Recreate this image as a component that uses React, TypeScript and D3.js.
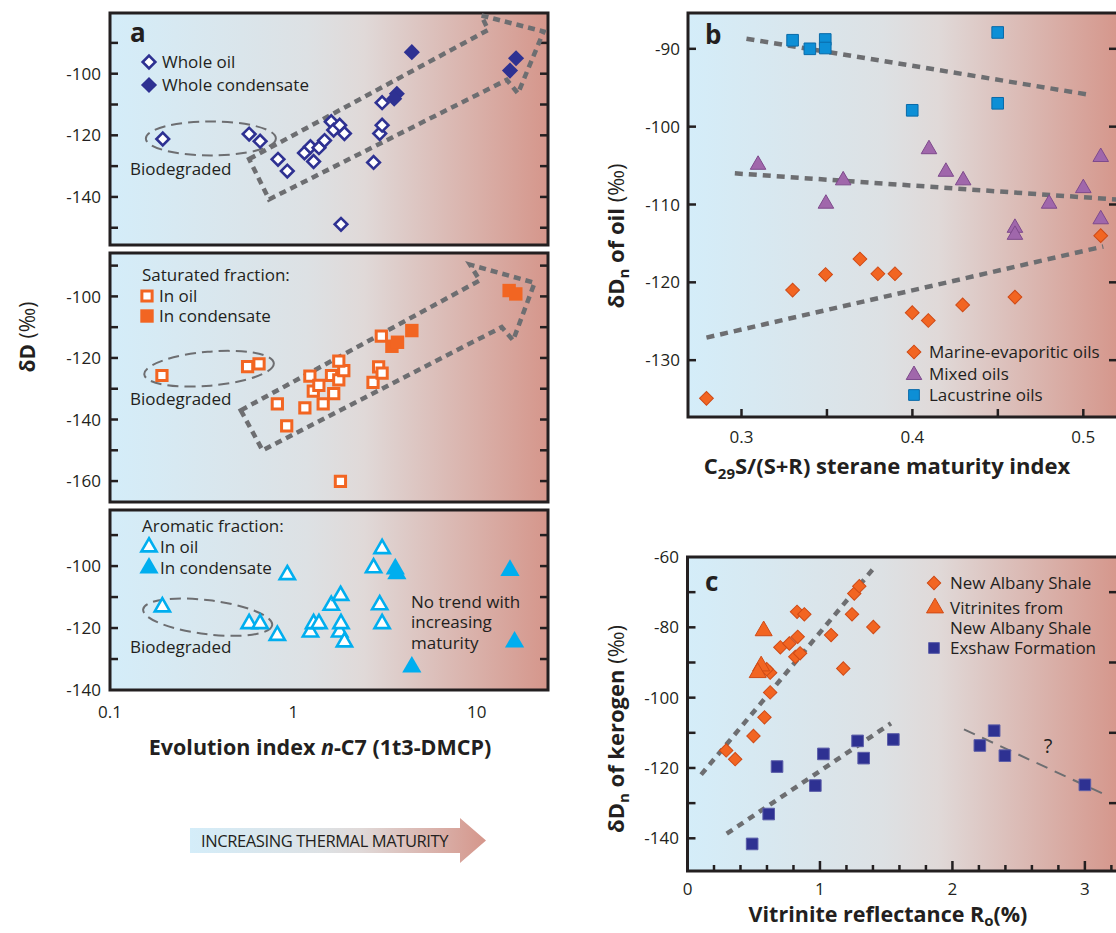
import React from 'react';
import * as d3 from 'd3';

const FONT = '"Open Sans", sans-serif';
const INK = '#231f20';
const DASH = '#6d6e71';
const NAVY = '#2e3192';
const ORANGE = '#f26522';
const CYAN = '#00aeef';
const PURPLE = '#a067ab';
const BLUE = '#0d8fd6';

// ---- panel a: evolution index vs dD ----
const wholeOil = [
  [0.194, -121.2], [0.574, -119.6], [0.659, -121.9], [0.825, -127.8], [0.927, -131.6],
  [1.15, -125.7], [1.24, -123.7], [1.29, -128.5], [1.38, -124], [1.48, -121.7],
  [1.61, -115.6], [1.66, -118.3], [1.79, -116.7], [1.9, -119.4], [1.82, -148.9],
  [2.74, -128.8], [2.96, -119.4], [3.05, -116.7], [3.05, -109.4],
];
const wholeCondensate = [[4.43, -93], [3.67, -106.5], [3.55, -108.1], [16.4, -95], [15.2, -99]];

const satOil = [
  [0.192, -125.7], [0.563, -122.8], [0.65, -121.9], [0.818, -134.9], [0.92, -142.1],
  [1.156, -136.2], [1.231, -125.9], [1.285, -130.8], [1.378, -128.9], [1.455, -134.9],
  [1.615, -125.7], [1.661, -131.6], [1.77, -127.1], [1.885, -124.1], [1.77, -121],
  [1.807, -160.1], [2.72, -127.9], [2.92, -122.9], [3.05, -124.9], [3.02, -112.9],
];
const satCondensate = [[3.45, -116.2], [3.7, -114.9], [4.43, -111.1], [15.04, -98.1], [16.35, -99.2]];

const aroOil = [
  [0.193, -113.2], [0.574, -118.6], [0.659, -118.6], [0.818, -122.4], [0.927, -102.8],
  [1.24, -121.3], [1.29, -118.6], [1.38, -118.6], [1.61, -112.7], [1.81, -109.5],
  [1.79, -121.3], [1.82, -118.6], [1.9, -124.5], [2.74, -100.6], [3.05, -94.4],
  [2.96, -112.5], [3.05, -118.6],
];
const aroCondensate = [[3.6, -100.9], [3.67, -102.5], [4.43, -132.6], [15.2, -101.4], [16.1, -124.5]];

const trendArrowA1 = [[0.574, -127.7], [11.56, -85.8], [10.6, -81.1], [23.2, -86.3], [16.8, -106.4], [14.6, -102], [0.737, -140.8]];
const trendArrowA2 = [[0.517, -137], [10.4, -94.8], [9.2, -89.7], [20.7, -95.6], [15.8, -114.3], [13.7, -110], [0.679, -150]];
const bioCenters = [[0.355, -121], [0.347, -123.5], [0.341, -116.5]];

const yTicksA1 = [-90, -100, -110, -120, -130, -140, -150];
const yLabelsA1 = [-100, -120, -140];
const yTicksA2 = [-90, -100, -110, -120, -130, -140, -150, -160];
const yLabelsA2 = [-100, -120, -140, -160];
const yTicksA3 = [-90, -100, -110, -120, -130];
const yLabelsA3 = [-100, -120, -140];
const xLabelsA = [0.1, 1, 10];

// ---- panel b: sterane maturity vs dDn of oil ----
const lacustrine = [[0.3299, -88.9], [0.34, -90], [0.349, -88.8], [0.349, -89.9], [0.4499, -87.9], [0.3999, -97.9], [0.4499, -97]];
const mixed = [
  [0.3097, -104.9], [0.3494, -109.9], [0.3595, -106.9], [0.4097, -102.9], [0.4196, -105.8], [0.4297, -106.9],
  [0.46, -113], [0.46, -113.9], [0.48, -109.9], [0.5, -107.9], [0.5102, -103.9], [0.5102, -111.9],
];
const marine = [
  [0.2795, -134.9], [0.3299, -121], [0.3492, -119], [0.3693, -117], [0.3798, -118.9], [0.3898, -118.9],
  [0.3999, -123.9], [0.4093, -124.9], [0.4294, -122.9], [0.46, -121.9], [0.5102, -114],
];
const trendsB = [
  [[0.3029, -88.7], [0.5035, -95.9]],
  [[0.2961, -106], [0.5218, -109.4]],
  [[0.2795, -127.1], [0.5117, -115.4]],
];
const yTicksB = [-90, -100, -110, -120, -130];
const xTicksB = [0.3, 0.35, 0.4, 0.45, 0.5];
const xLabelsB = [0.3, 0.4, 0.5];

// ---- panel c: vitrinite reflectance vs dDn of kerogen ----
const newAlbany = [
  [0.292, -115], [0.36, -117.5], [0.498, -110.9], [0.581, -105.6], [0.624, -98.5], [0.624, -92.9],
  [0.598, -91.9], [0.701, -85.7], [0.769, -84.6], [0.832, -82.7], [0.814, -88.4], [0.85, -87.4],
  [0.827, -75.6], [0.882, -76.3], [1.084, -82.2], [1.176, -91.7], [1.242, -76.3], [1.259, -70.4],
  [1.297, -68.3], [1.403, -79.9],
];
const vitrinites = [[0.575, -81], [0.556, -91], [0.53, -92.9]];
const exshaw = [
  [0.676, -119.6], [1.026, -116], [1.284, -112.3], [1.33, -117.2], [1.554, -111.9], [0.965, -125],
  [0.613, -133.1], [0.488, -141.6], [2.207, -113.6], [2.315, -109.4], [2.396, -116.5], [3.0, -124.8],
];
const trendsC = [
  [[0.103, -121.9], [1.41, -63]],
  [[0.296, -138.7], [1.536, -107.3]],
];
const trendC3 = [[2.087, -109], [3.13, -127.2]];
const yTicksC = [-70, -80, -90, -100, -110, -120, -130, -140];
const yLabelsC = [-60, -80, -100, -120, -140];
const yTicksCRight = [-70, -90, -110, -130];
const xTicksC = d3.range(0, 3.21, 0.2);
const xLabelsC = [0, 1, 2, 3];

// scales
const xA = d3.scaleLog().domain([0.1, 24.5]).range([110, 548]);
const yA1 = d3.scaleLinear().domain([-155.6, -80.3]).range([245, 13]);
const yA2 = d3.scaleLinear().domain([-166.8, -85.9]).range([502, 253]);
const yA3 = d3.scaleLinear().domain([-140, -81.9]).range([690, 510]);
const xB = d3.scaleLinear().domain([0.2687, 0.5203]).range([688, 1118]);
const yB = d3.scaleLinear().domain([-137.3, -85.4]).range([417, 13]);
const xC = d3.scaleLinear().domain([0, 3.25]).range([687.5, 1118]);
const yC = d3.scaleLinear().domain([-149.3, -60]).range([871, 557]);

const sym = (type: any, size: number) => d3.symbol(type, size)() as string;

function Marks({ data, x, y, shape, size, fill, stroke, sw, rot = 0 }: any) {
  const p = sym(shape, size);
  return (
    <g>
      {data.map((d: number[], i: number) => (
        <path key={i} d={p} transform={`translate(${x(d[0])},${y(d[1])}) rotate(${rot})`}
          fill={fill} stroke={stroke} strokeWidth={sw} />
      ))}
    </g>
  );
}

function Frame({ x0, x1, y0, y1 }: any) {
  return <rect x={x0} y={y0} width={x1 - x0} height={y1 - y0} fill="url(#bg)" stroke={INK} strokeWidth={3} />;
}

function YTicks({ ticks, y, x0, x1, len = 8 }: any) {
  return (
    <g stroke={INK} strokeWidth={2.5}>
      {ticks.map((t: number) => (
        <g key={t}>
          <line x1={x0} x2={x0 + len} y1={y(t)} y2={y(t)} />
          {x1 != null && <line x1={x1} x2={x1 - len} y1={y(t)} y2={y(t)} />}
        </g>
      ))}
    </g>
  );
}

function YLabels({ labels, y, x }: any) {
  return (
    <g fontSize={17} fill={INK} textAnchor="end">
      {labels.map((t: number) => (
        <text key={t} x={x} y={y(t)} dy="0.36em">{t}</text>
      ))}
    </g>
  );
}

function SubA({ y, y0, y1, ticks, labels, arrow, bio, bioRot, children }: any) {
  const line = d3.line().x((d: any) => xA(d[0])).y((d: any) => y(d[1]));
  return (
    <g>
      <Frame x0={110} x1={548} y0={y0} y1={y1} />
      <YTicks ticks={ticks} y={y} x0={110} x1={548} />
      <YLabels labels={labels} y={y} x={101} />
      {arrow && <path d={line(arrow as any) + 'Z'} fill="none" stroke={DASH} strokeWidth={4.5} strokeDasharray="7 5" />}
      <ellipse cx={xA(bio[0])} cy={y(bio[1])} rx={65} ry={17} fill="none" stroke={DASH} strokeWidth={2}
        strokeDasharray="11 6" transform={`rotate(${bioRot},${xA(bio[0])},${y(bio[1])})`} />
      <text x={130} y={y(bio[1]) + 30} dy="0.36em" fontSize={17} fill={INK}>Biodegraded</text>
      {children}
    </g>
  );
}

export default function App() {
  const lineB = d3.line().x((d: any) => xB(d[0])).y((d: any) => yB(d[1]));
  const lineC = d3.line().x((d: any) => xC(d[0])).y((d: any) => yC(d[1]));
  return (
    <svg width={1116} height={933} fontFamily={FONT}
      style={{ position: 'absolute', left: 0, top: 0, background: '#fff' }}>
      <defs>
        <linearGradient id="bg" x1="0" x2="1" y1="0" y2="0">
          <stop offset="0" stopColor="#d4edf9" />
          <stop offset="0.45" stopColor="#dde1e4" />
          <stop offset="0.58" stopColor="#e0d9d8" />
          <stop offset="1" stopColor="#d5968b" />
        </linearGradient>
      </defs>

      {/* panel a top */}
      <SubA y={yA1} y0={13} y1={245} ticks={yTicksA1} labels={yLabelsA1} arrow={trendArrowA1}
        bio={bioCenters[0]} bioRot={0}>
        <Marks data={wholeOil} x={xA} y={yA1} shape={d3.symbolSquare} size={80} fill="#fff" stroke={NAVY} sw={2.6} rot={45} />
        <Marks data={wholeCondensate} x={xA} y={yA1} shape={d3.symbolSquare} size={130} fill={NAVY} stroke="none" sw={0} rot={45} />
        <text x={130} y={33} dy="0.36em" fontSize={26} fontWeight="bold" fill={INK}>a</text>
        <path d={sym(d3.symbolSquare, 80)} transform="translate(149,62) rotate(45)" fill="#fff" stroke={NAVY} strokeWidth={2.6} />
        <path d={sym(d3.symbolSquare, 130)} transform="translate(149,85) rotate(45)" fill={NAVY} />
        <g fontSize={17} fill={INK}>
          <text x={162} y={62} dy="0.36em">Whole oil</text>
          <text x={162} y={85} dy="0.36em">Whole condensate</text>
        </g>
      </SubA>

      {/* panel a middle */}
      <SubA y={yA2} y0={253} y1={502} ticks={yTicksA2} labels={yLabelsA2} arrow={trendArrowA2}
        bio={bioCenters[1]} bioRot={-5}>
        <Marks data={satOil} x={xA} y={yA2} shape={d3.symbolSquare} size={105} fill="#fff" stroke={ORANGE} sw={3} />
        <Marks data={satCondensate} x={xA} y={yA2} shape={d3.symbolSquare} size={180} fill={ORANGE} stroke="none" sw={0} />
        <path d={sym(d3.symbolSquare, 105)} transform="translate(147,296)" fill="#fff" stroke={ORANGE} strokeWidth={3} />
        <path d={sym(d3.symbolSquare, 180)} transform="translate(147,316)" fill={ORANGE} />
        <g fontSize={17} fill={INK}>
          <text x={142} y={275} dy="0.36em">Saturated fraction:</text>
          <text x={159} y={296} dy="0.36em">In oil</text>
          <text x={159} y={316} dy="0.36em">In condensate</text>
        </g>
      </SubA>

      {/* panel a bottom */}
      <SubA y={yA3} y0={510} y1={690} ticks={yTicksA3} labels={yLabelsA3} arrow={null}
        bio={bioCenters[2]} bioRot={7}>
        <Marks data={aroOil} x={xA} y={yA3} shape={d3.symbolTriangle} size={100} fill="#fff" stroke={CYAN} sw={2.6} />
        <Marks data={aroCondensate} x={xA} y={yA3} shape={d3.symbolTriangle} size={160} fill={CYAN} stroke="none" sw={0} />
        <path d={sym(d3.symbolTriangle, 100)} transform="translate(149,547)" fill="#fff" stroke={CYAN} strokeWidth={2.6} />
        <path d={sym(d3.symbolTriangle, 160)} transform="translate(149,568)" fill={CYAN} />
        <g fontSize={17} fill={INK}>
          <text x={142} y={526} dy="0.36em">Aromatic fraction:</text>
          <text x={160} y={547} dy="0.36em">In oil</text>
          <text x={160} y={568} dy="0.36em">In condensate</text>
          <text x={411} y={602} dy="0.36em">No trend with</text>
          <text x={411} y={622} dy="0.36em">increasing</text>
          <text x={411} y={643} dy="0.36em">maturity</text>
        </g>
      </SubA>

      {/* panel a x axis */}
      <g fontSize={17} fill={INK} textAnchor="middle">
        {xLabelsA.map((v) => (
          <text key={v} x={xA(v)} y={712} dy="0.36em">{v}</text>
        ))}
      </g>
      <text x={320} y={747} dy="0.36em" textAnchor="middle" fontSize={21.5} fontWeight="bold" fill={INK}>
        Evolution index <tspan fontStyle="italic">n</tspan>-C7 (1t3-DMCP)
      </text>
      <text transform="translate(27,337) rotate(-90)" textAnchor="middle" dy="0.36em" fontSize={21} fontWeight="bold" fill={INK}>
        δD <tspan fontWeight="normal">(‰)</tspan>
      </text>

      {/* maturity arrow */}
      <path d="M190,828 H460 V818 L486,840.5 L460,863 V853 H190 Z" fill="url(#bg)" />
      <text x={201} y={841} dy="0.36em" fontSize={16.5} fill={INK} letterSpacing={-0.4}>INCREASING THERMAL MATURITY</text>

      {/* panel b */}
      <Frame x0={688} x1={1120} y0={13} y1={417} />
      <YTicks ticks={yTicksB} y={yB} x0={688} x1={1117} />
      <g stroke={INK} strokeWidth={2.5}>
        {xTicksB.map((t) => <line key={t} x1={xB(t)} x2={xB(t)} y1={417} y2={409} />)}
      </g>
      <YLabels labels={yTicksB} y={yB} x={680} />
      <g fontSize={17} fill={INK} textAnchor="middle">
        {xLabelsB.map((v) => <text key={v} x={xB(v)} y={437} dy="0.36em">{v}</text>)}
      </g>
      {trendsB.map((t, i) => (
        <path key={i} d={lineB(t as any) as string} fill="none" stroke={DASH} strokeWidth={4.5} strokeDasharray="8 6" />
      ))}
      <Marks data={lacustrine} x={xB} y={yB} shape={d3.symbolSquare} size={135} fill={BLUE} stroke="#0a6aa8" sw={1} />
      <Marks data={mixed} x={xB} y={yB} shape={d3.symbolTriangle} size={105} fill={PURPLE} stroke="#7e4a8c" sw={1} />
      <Marks data={marine} x={xB} y={yB} shape={d3.symbolSquare} size={95} fill={ORANGE} stroke="#cf4a16" sw={1} rot={45} />
      <text x={705} y={35} dy="0.36em" fontSize={26} fontWeight="bold" fill={INK}>b</text>
      <path d={sym(d3.symbolSquare, 95)} transform="translate(914,352) rotate(45)" fill={ORANGE} stroke="#cf4a16" />
      <path d={sym(d3.symbolTriangle, 105)} transform="translate(914,375)" fill={PURPLE} stroke="#7e4a8c" />
      <path d={sym(d3.symbolSquare, 115)} transform="translate(914,395)" fill={BLUE} stroke="#0a6aa8" />
      <g fontSize={17} fill={INK}>
        <text x={929} y={352} dy="0.36em">Marine-evaporitic oils</text>
        <text x={929} y={374} dy="0.36em">Mixed oils</text>
        <text x={929} y={395} dy="0.36em">Lacustrine oils</text>
      </g>
      <text x={887} y={466} dy="0.36em" textAnchor="middle" fontSize={22} fontWeight="bold" fill={INK}>
        C<tspan fontSize={15} dy="5">29</tspan><tspan dy="-5">S/(S+R) sterane maturity index</tspan>
      </text>
      <text transform="translate(616,236) rotate(-90)" textAnchor="middle" dy="0.36em" fontSize={22} fontWeight="bold" fill={INK}>
        δD<tspan fontSize={15} dy="5">n</tspan><tspan dy="-5"> of oil </tspan><tspan fontWeight="normal">(‰)</tspan>
      </text>

      {/* panel c */}
      <Frame x0={687.5} x1={1120} y0={557} y1={871} />
      <YTicks ticks={yTicksC} y={yC} x0={687.5} x1={null} />
      <g stroke={INK} strokeWidth={2.5}>
        {yTicksCRight.map((t) => <line key={t} x1={1117} x2={1109} y1={yC(t)} y2={yC(t)} />)}
        {xTicksC.map((t) => {
          const major = Math.abs(t - Math.round(t)) < 1e-6;
          return <line key={t} x1={xC(t)} x2={xC(t)} y1={871} y2={major ? 861 : 865} />;
        })}
      </g>
      <YLabels labels={yLabelsC} y={yC} x={679} />
      <g fontSize={17} fill={INK} textAnchor="middle">
        {xLabelsC.map((v) => <text key={v} x={xC(v)} y={889} dy="0.36em">{v}</text>)}
      </g>
      {trendsC.map((t, i) => (
        <path key={i} d={lineC(t as any) as string} fill="none" stroke={DASH} strokeWidth={4.5} strokeDasharray="7 6" />
      ))}
      <path d={lineC(trendC3 as any) as string} fill="none" stroke={DASH} strokeWidth={2} strokeDasharray="12 8" />
      <text x={1048} y={746} dy="0.36em" textAnchor="middle" fontSize={20} fill={INK}>?</text>
      <Marks data={exshaw} x={xC} y={yC} shape={d3.symbolSquare} size={135} fill={NAVY} stroke="#5b5da8" sw={1} />
      <Marks data={newAlbany} x={xC} y={yC} shape={d3.symbolSquare} size={90} fill={ORANGE} stroke="#cf4a16" sw={1} rot={45} />
      <Marks data={vitrinites} x={xC} y={yC} shape={d3.symbolTriangle} size={125} fill={ORANGE} stroke="#cf4a16" sw={1} />
      <text x={705} y={582} dy="0.36em" fontSize={26} fontWeight="bold" fill={INK}>c</text>
      <path d={sym(d3.symbolSquare, 90)} transform="translate(934,583) rotate(45)" fill={ORANGE} stroke="#cf4a16" />
      <path d={sym(d3.symbolTriangle, 125)} transform="translate(935,608)" fill={ORANGE} stroke="#cf4a16" />
      <path d={sym(d3.symbolSquare, 115)} transform="translate(934,648)" fill={NAVY} stroke="#5b5da8" />
      <g fontSize={17} fill={INK}>
        <text x={950} y={583} dy="0.36em">New Albany Shale</text>
        <text x={950} y={608} dy="0.36em">Vitrinites from</text>
        <text x={950} y={628} dy="0.36em">New Albany Shale</text>
        <text x={950} y={648} dy="0.36em">Exshaw Formation</text>
      </g>
      <text x={888} y={914} dy="0.36em" textAnchor="middle" fontSize={21.5} fontWeight="bold" fill={INK}>
        Vitrinite reflectance R<tspan fontSize={15} dy="4">o</tspan><tspan dy="-4">(%)</tspan>
      </text>
      <text transform="translate(616,729) rotate(-90)" textAnchor="middle" dy="0.36em" fontSize={22} fontWeight="bold" fill={INK}>
        δD<tspan fontSize={15} dy="5">n</tspan><tspan dy="-5"> of kerogen </tspan><tspan fontWeight="normal">(‰)</tspan>
      </text>
    </svg>
  );
}
